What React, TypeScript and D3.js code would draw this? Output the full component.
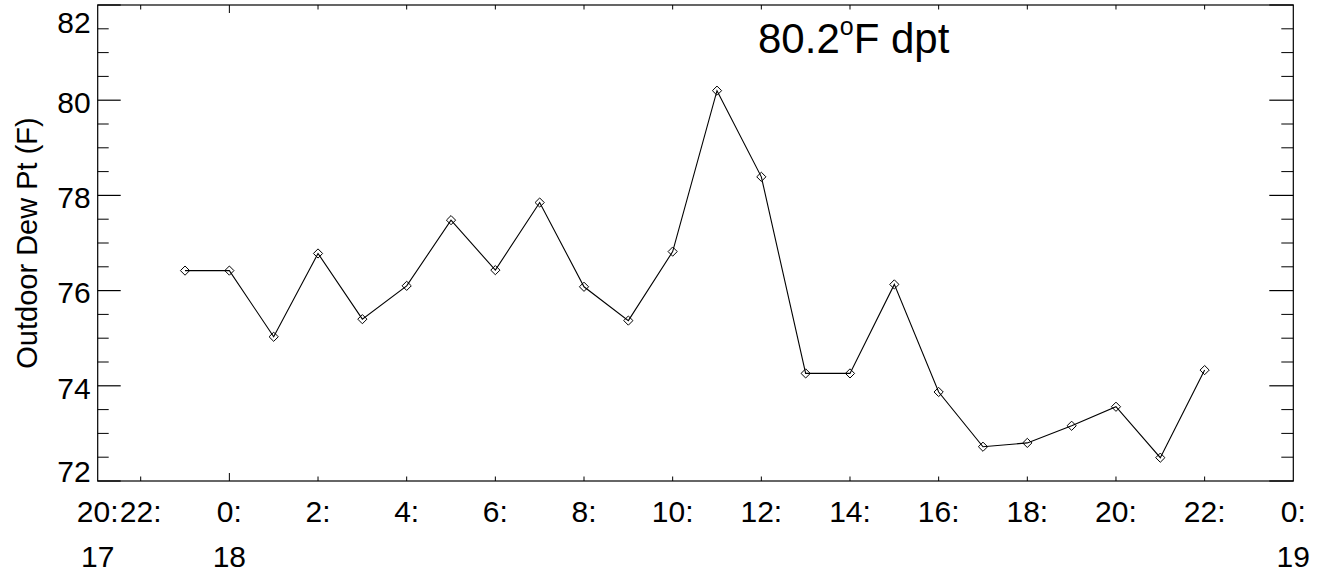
import React from "react";
import * as d3 from "d3";

// Hours relative to 0:00 on the 18th
const hours = [-1, 0, 1, 2, 3, 4, 5, 6, 7, 8, 9, 10, 11, 12, 13, 14, 15, 16, 17, 18, 19, 20, 21, 22];
const dewPoint = [
  76.42, 76.42, 75.03, 76.78, 75.4, 76.1, 77.48, 76.43, 77.85, 76.08, 75.37, 76.82,
  80.2, 78.39, 74.26, 74.26, 76.13, 73.87, 72.72, 72.8, 73.16, 73.56, 72.49, 74.33,
];

const xDomain = [-2.97, 24];
const xTickHours = [-2.97, -2, 0, 2, 4, 6, 8, 10, 12, 14, 16, 18, 20, 22, 24];
const xTickLabels = ["20:", "22:", "0:", "2:", "4:", "6:", "8:", "10:", "12:", "14:", "16:", "18:", "20:", "22:", "0:"];
const dayTickHours = [-2.97, 0, 24];
const dayLabels = ["17", "18", "19"];
const dayBoundaries = [0];

const yDomain = [72, 82];
const yMajorTicks = [72, 74, 76, 78, 80, 82];
const yMinorStep = 0.5;

const yTitle = "Outdoor Dew Pt (F)";

const W = 1327;
const H = 573;
const left = 97.7;
const right = 1293.3;
const top = 5;
const bottom = 481;
const FONT = "'Liberation Sans', Arial, Helvetica, sans-serif";

export default function App() {
  const x = d3.scaleLinear().domain(xDomain).range([left, right]);
  const y = d3.scaleLinear().domain(yDomain).range([bottom, top]);
  const line = d3
    .line<number>()
    .x((_, i) => x(hours[i]))
    .y((d) => y(d));

  const minorTicks = d3
    .range(yDomain[0], yDomain[1] + 1e-6, yMinorStep)
    .filter((v) => !yMajorTicks.some((m) => Math.abs(m - v) < 1e-6));

  const maxVal = d3.max(dewPoint) as number;
  const innerTicks = xTickHours.filter((h) => h > xDomain[0] && h < xDomain[1]);
  const ds = 4.6;

  return (
    <svg
      width={W}
      height={H}
      style={{ position: "fixed", left: 0, top: 0, background: "#fff" }}
      fontFamily={FONT}
    >
      <rect x={0} y={0} width={W} height={H} fill="#fff" />
      {/* frame */}
      <rect x={left} y={top} width={right - left} height={bottom - top} fill="none" stroke="#000" strokeWidth={1.2} />

      {/* y ticks */}
      {yMajorTicks.map((v) => (
        <g key={"ym" + v}>
          <line x1={left} x2={left + 23} y1={y(v)} y2={y(v)} stroke="#000" strokeWidth={1.2} />
          <line x1={right} x2={right - 24} y1={y(v)} y2={y(v)} stroke="#000" strokeWidth={1.2} />
          <text
            x={left - 7}
            y={Math.min(Math.max(y(v) + 12.7, top + 28), bottom + 1)}
            textAnchor="end"
            fontSize={30}
            fill="#000"
          >
            {v}
          </text>
        </g>
      ))}
      {minorTicks.map((v) => (
        <g key={"yn" + v}>
          <line x1={left} x2={left + 11} y1={y(v)} y2={y(v)} stroke="#000" strokeWidth={1} />
          <line x1={right} x2={right - 12} y1={y(v)} y2={y(v)} stroke="#000" strokeWidth={1} />
        </g>
      ))}

      {/* x ticks */}
      {innerTicks.map((h) => {
        const len = dayBoundaries.includes(h) ? 8 : 4.5;
        return (
          <g key={"xt" + h}>
            <line x1={x(h)} x2={x(h)} y1={bottom} y2={bottom - len} stroke="#000" strokeWidth={1} />
            <line x1={x(h)} x2={x(h)} y1={top} y2={top + len} stroke="#000" strokeWidth={1} />
          </g>
        );
      })}
      {xTickHours.map((h, i) => (
        <text key={"xl" + i} x={x(h)} y={521.7} textAnchor="middle" fontSize={30} fill="#000">
          {xTickLabels[i]}
        </text>
      ))}
      {dayTickHours.map((h, i) => (
        <text key={"dl" + i} x={x(h)} y={566.7} textAnchor="middle" fontSize={30} fill="#000">
          {dayLabels[i]}
        </text>
      ))}

      {/* y title */}
      <text
        transform={`translate(37, ${(top + bottom) / 2}) rotate(-90)`}
        textAnchor="middle"
        fontSize={29}
        fill="#000"
      >
        {yTitle}
      </text>

      {/* data */}
      <path d={line(dewPoint) || ""} fill="none" stroke="#000" strokeWidth={1.1} />
      {dewPoint.map((v, i) => {
        const cx = x(hours[i]);
        const cy = y(v);
        return (
          <path
            key={"pt" + i}
            d={`M${cx},${cy - ds}L${cx + ds},${cy}L${cx},${cy + ds}L${cx - ds},${cy}Z`}
            fill="none"
            stroke="#000"
            strokeWidth={1}
          />
        );
      })}

      {/* annotation */}
      <text x={758} y={53} fontSize={42} fill="#000">
        {maxVal.toFixed(1)}
        <tspan fontSize={25} dy={-18}>o</tspan>
        <tspan dy={18}>F dpt</tspan>
      </text>
    </svg>
  );
}
